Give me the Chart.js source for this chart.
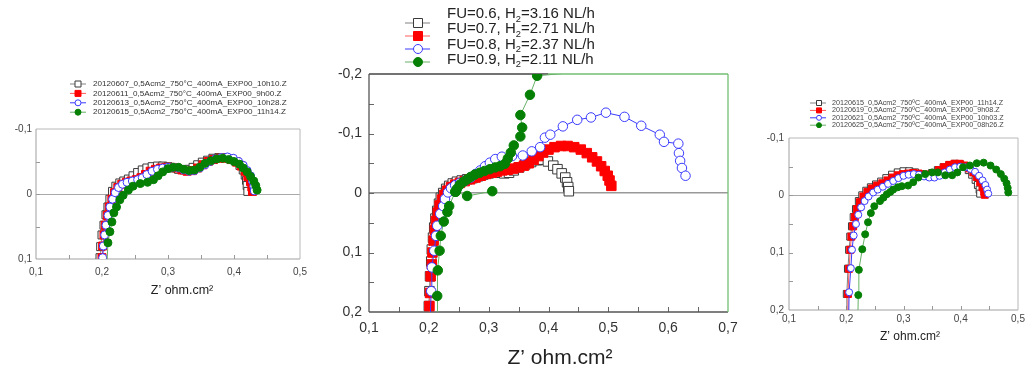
<!DOCTYPE html>
<html>
<head>
<meta charset="utf-8">
<script src="https://cdn.jsdelivr.net/npm/chart.js@4.4.1/dist/chart.umd.min.js"></script>
<style>
  html, body { margin: 0; padding: 0; background: #fff; }
  #wrap { position: relative; width: 1033px; height: 372px; overflow: hidden; }
  canvas { position: absolute; left: 0; top: 0; }
</style>
</head>
<body>
<div id="wrap">
  <canvas id="leftChart" width="1033" height="372"></canvas>
  <canvas id="midChart" width="1033" height="372"></canvas>
  <canvas id="rightChart" width="1033" height="372"></canvas>
</div>
<script>
// ---- data: [Z', -Z''] pairs in ohm.cm2 (y axis drawn inverted) ----

// left panel
const leftLabels = [
    '20120607_0,5Acm2_750°C_400mA_EXP00_10h10.Z',
    '20120611_0,5Acm2_750°C_400mA_EXP00_9h00.Z',
    '20120613_0,5Acm2_750°C_400mA_EXP00_10h28.Z',
    '20120615_0,5Acm2_750°C_400mA_EXP00_11h14.Z'
];
const left0607 = [[0.196,0.12],[0.197,0.098],[0.198,0.081],[0.200,0.063],[0.203,0.048],[0.206,0.032],[0.209,0.02],[0.212,0.008],[0.216,-0.004],[0.221,-0.012],[0.227,-0.017],[0.233,-0.02],[0.240,-0.023],[0.247,-0.028],[0.254,-0.033],[0.261,-0.037],[0.268,-0.040],[0.276,-0.042],[0.284,-0.043],[0.292,-0.043],[0.300,-0.042],[0.308,-0.040],[0.316,-0.038],[0.324,-0.037],[0.331,-0.038],[0.338,-0.041],[0.345,-0.045],[0.352,-0.049],[0.360,-0.052],[0.368,-0.055],[0.377,-0.056],[0.386,-0.056],[0.395,-0.054],[0.403,-0.05],[0.409,-0.044],[0.414,-0.037],[0.417,-0.029],[0.419,-0.021],[0.420,-0.013],[0.421,-0.004]];
const left0611 = [[0.199,0.12],[0.200,0.098],[0.201,0.08],[0.203,0.063],[0.205,0.048],[0.208,0.033],[0.211,0.02],[0.215,0.008],[0.219,-0.002],[0.224,-0.01],[0.230,-0.015],[0.237,-0.018],[0.244,-0.02],[0.252,-0.022],[0.259,-0.025],[0.266,-0.03],[0.273,-0.035],[0.281,-0.038],[0.289,-0.04],[0.297,-0.041],[0.305,-0.041],[0.313,-0.04],[0.321,-0.037],[0.329,-0.035],[0.337,-0.036],[0.345,-0.04],[0.353,-0.045],[0.361,-0.05],[0.369,-0.053],[0.378,-0.055],[0.387,-0.055],[0.396,-0.053],[0.404,-0.049],[0.411,-0.043],[0.417,-0.035],[0.421,-0.027],[0.425,-0.019],[0.427,-0.011],[0.428,-0.004]];
const left0613 = [[0.200,0.12],[0.201,0.098],[0.202,0.08],[0.204,0.063],[0.206,0.048],[0.209,0.033],[0.212,0.02],[0.216,0.008],[0.220,-0.002],[0.225,-0.01],[0.231,-0.015],[0.238,-0.018],[0.246,-0.02],[0.254,-0.022],[0.261,-0.025],[0.268,-0.03],[0.276,-0.035],[0.284,-0.038],[0.292,-0.04],[0.300,-0.041],[0.308,-0.041],[0.316,-0.04],[0.324,-0.037],[0.332,-0.035],[0.340,-0.036],[0.348,-0.04],[0.356,-0.045],[0.364,-0.05],[0.372,-0.054],[0.381,-0.056],[0.390,-0.057],[0.399,-0.055],[0.407,-0.05],[0.414,-0.044],[0.420,-0.036],[0.425,-0.028],[0.428,-0.02],[0.430,-0.012],[0.431,-0.005]];
const left0615 = [[0.207,0.12],[0.209,0.075],[0.212,0.058],[0.215,0.043],[0.218,0.029],[0.222,0.02],[0.227,0.009],[0.232,0.002],[0.240,-0.006],[0.247,-0.012],[0.258,-0.016],[0.269,-0.018],[0.278,-0.022],[0.285,-0.028],[0.292,-0.034],[0.300,-0.039],[0.308,-0.041],[0.316,-0.041],[0.324,-0.038],[0.332,-0.036],[0.340,-0.037],[0.348,-0.041],[0.356,-0.047],[0.365,-0.051],[0.374,-0.054],[0.383,-0.055],[0.392,-0.053],[0.400,-0.05],[0.408,-0.046],[0.414,-0.04],[0.420,-0.034],[0.425,-0.027],[0.430,-0.02],[0.433,-0.013],[0.435,-0.006]];

// middle panel
const midLabels = ['FU=0.6, H₂=3.16 NL/h', 'FU=0.7, H₂=2.71 NL/h', 'FU=0.8, H₂=2.37 NL/h', 'FU=0.9, H₂=2.11 NL/h'];
const midFU06 = [[0.199,0.23],[0.200,0.19],[0.201,0.165],[0.202,0.14],[0.204,0.115],[0.205,0.095],[0.207,0.075],[0.209,0.058],[0.211,0.043],[0.214,0.03],[0.217,0.018],[0.220,0.008],[0.224,0.0],[0.229,-0.007],[0.234,-0.012],[0.240,-0.016],[0.247,-0.019],[0.255,-0.021],[0.264,-0.023],[0.273,-0.025],[0.282,-0.028],[0.291,-0.031],[0.300,-0.033],[0.309,-0.034],[0.318,-0.034],[0.326,-0.033],[0.334,-0.034],[0.342,-0.038],[0.351,-0.043],[0.361,-0.048],[0.371,-0.052],[0.381,-0.055],[0.390,-0.056],[0.399,-0.053],[0.408,-0.046],[0.415,-0.040],[0.422,-0.033],[0.428,-0.026],[0.431,-0.018],[0.433,-0.010],[0.434,-0.003]];
const midFU07 = [[0.200,0.23],[0.201,0.19],[0.202,0.168],[0.203,0.14],[0.205,0.12],[0.206,0.10],[0.208,0.08],[0.210,0.062],[0.212,0.047],[0.215,0.033],[0.218,0.021],[0.222,0.011],[0.226,0.003],[0.231,-0.004],[0.237,-0.01],[0.244,-0.014],[0.252,-0.017],[0.260,-0.02],[0.269,-0.023],[0.278,-0.026],[0.287,-0.029],[0.296,-0.032],[0.305,-0.034],[0.314,-0.036],[0.323,-0.038],[0.332,-0.039],[0.341,-0.041],[0.350,-0.043],[0.359,-0.046],[0.367,-0.05],[0.375,-0.056],[0.383,-0.062],[0.391,-0.068],[0.400,-0.073],[0.410,-0.077],[0.421,-0.079],[0.432,-0.079],[0.443,-0.077],[0.454,-0.073],[0.464,-0.067],[0.473,-0.06],[0.481,-0.053],[0.488,-0.045],[0.494,-0.037],[0.499,-0.029],[0.502,-0.021],[0.505,-0.012]];
const midFU08 = [[0.201,0.24],[0.204,0.165],[0.205,0.125],[0.209,0.097],[0.212,0.072],[0.214,0.055],[0.219,0.035],[0.224,0.022],[0.227,0.01],[0.232,-0.001],[0.237,-0.008],[0.244,-0.013],[0.252,-0.017],[0.261,-0.021],[0.270,-0.026],[0.278,-0.032],[0.286,-0.038],[0.294,-0.045],[0.302,-0.051],[0.311,-0.057],[0.322,-0.061],[0.339,-0.062],[0.357,-0.063],[0.372,-0.07],[0.386,-0.077],[0.394,-0.093],[0.403,-0.098],[0.424,-0.112],[0.448,-0.123],[0.471,-0.127],[0.496,-0.135],[0.527,-0.128],[0.555,-0.113],[0.586,-0.098],[0.593,-0.086],[0.617,-0.083],[0.618,-0.067],[0.620,-0.054],[0.623,-0.042],[0.629,-0.029]];
const midFU09 = [[0.306,-0.003],[0.264,0.005],[0.245,-0.002],[null,null],
    [0.214,0.24],[0.214,0.173],[0.215,0.13],[0.218,0.097],[0.220,0.072],[0.225,0.048],[0.231,0.032],[0.234,0.022],[0.244,-0.002],[0.247,-0.007],[0.252,-0.014],[0.258,-0.019],[0.264,-0.023],[0.270,-0.027],[0.277,-0.031],[0.285,-0.034],[0.293,-0.037],[0.302,-0.040],[0.311,-0.043],[0.319,-0.045],[0.327,-0.049],[0.332,-0.058],[0.337,-0.068],[0.342,-0.08],[0.353,-0.095],[0.356,-0.11],[0.353,-0.131],[0.369,-0.165],[0.381,-0.197],[0.75,-0.23]];

// right panel
const rightLabels = [
    '20120615_0,5Acm2_750ºC_400mA_EXP00_11h14.Z',
    '20120619_0,5Acm2_750ºC_400mA_EXP00_9h08.Z',
    '20120621_0,5Acm2_750ºC_400mA_EXP00_10h03.Z',
    '20120625_0,5Acm2_750ºC_400mA_EXP00_08h26.Z'
];
const right0615 = [[0.200,0.23],[0.201,0.172],[0.203,0.128],[0.205,0.095],[0.207,0.072],[0.210,0.054],[0.213,0.038],[0.217,0.024],[0.222,0.01],[0.228,0.0],[0.235,-0.008],[0.243,-0.014],[0.252,-0.019],[0.261,-0.024],[0.270,-0.03],[0.280,-0.036],[0.290,-0.04],[0.300,-0.042],[0.310,-0.042],[0.320,-0.04],[0.330,-0.037],[0.340,-0.036],[0.350,-0.039],[0.360,-0.044],[0.370,-0.049],[0.380,-0.053],[0.390,-0.055],[0.399,-0.054],[0.407,-0.05],[0.414,-0.044],[0.420,-0.036],[0.426,-0.027],[0.430,-0.018],[0.433,-0.01],[0.434,-0.003]];
const right0619 = [[0.202,0.23],[0.203,0.172],[0.205,0.128],[0.207,0.095],[0.209,0.072],[0.212,0.054],[0.215,0.038],[0.219,0.024],[0.224,0.012],[0.230,0.002],[0.237,-0.006],[0.245,-0.012],[0.254,-0.017],[0.263,-0.021],[0.272,-0.026],[0.281,-0.031],[0.290,-0.035],[0.299,-0.037],[0.308,-0.038],[0.317,-0.039],[0.326,-0.038],[0.335,-0.036],[0.344,-0.036],[0.353,-0.039],[0.362,-0.044],[0.371,-0.049],[0.380,-0.053],[0.389,-0.055],[0.398,-0.055],[0.407,-0.052],[0.415,-0.047],[0.422,-0.04],[0.428,-0.032],[0.434,-0.023],[0.438,-0.014],[0.441,-0.006],[0.442,-0.001]];
const right0621 = [[0.204,0.23],[0.205,0.169],[0.208,0.127],[0.210,0.095],[0.213,0.07],[0.217,0.05],[0.221,0.034],[0.226,0.021],[0.232,0.01],[0.239,0.002],[0.247,-0.005],[0.255,-0.01],[0.264,-0.015],[0.273,-0.02],[0.282,-0.025],[0.291,-0.03],[0.300,-0.034],[0.309,-0.036],[0.318,-0.037],[0.327,-0.036],[0.336,-0.033],[0.345,-0.031],[0.354,-0.031],[0.363,-0.034],[0.372,-0.04],[0.381,-0.045],[0.390,-0.049],[0.399,-0.05],[0.408,-0.049],[0.417,-0.046],[0.425,-0.041],[0.432,-0.034],[0.438,-0.026],[0.443,-0.018],[0.446,-0.01],[0.448,-0.003]];
const right0625 = [[0.220,0.23],[0.221,0.174],[0.222,0.13],[0.228,0.094],[0.233,0.068],[0.238,0.047],[0.243,0.031],[0.249,0.019],[0.259,0.01],[0.265,0.004],[0.271,-0.002],[0.277,-0.006],[0.282,-0.01],[0.290,-0.014],[0.297,-0.016],[0.308,-0.017],[0.317,-0.023],[0.326,-0.031],[0.338,-0.037],[0.350,-0.04],[0.360,-0.04],[0.373,-0.035],[0.385,-0.035],[0.394,-0.04],[0.404,-0.049],[0.416,-0.052],[0.428,-0.056],[0.440,-0.057],[0.452,-0.052],[0.462,-0.045],[0.470,-0.037],[0.476,-0.029],[0.480,-0.021],[0.482,-0.013],[0.483,-0.005]];

// ---- look ----
const FONT = 'Liberation Sans, Arial, sans-serif';
const seriesLook = [
    { shape: 'rect',   fill: '#ffffff', stroke: '#3a3a3a', line: '#808080' },
    { shape: 'rect',   fill: '#ff0000', stroke: '#ff0000', line: '#ff5a5a' },
    { shape: 'circle', fill: '#ffffff', stroke: '#3a3aff', line: '#3a3aff' },
    { shape: 'circle', fill: '#058005', stroke: '#058005', line: '#66b066' }
];

function drawMarker(ctx, look, x, y, size) {
    ctx.save();
    ctx.lineWidth = 1;
    ctx.fillStyle = look.fill;
    ctx.strokeStyle = look.stroke;
    ctx.beginPath();
    if (look.shape === 'rect') ctx.rect(x - size / 2, y - size / 2, size, size);
    else ctx.arc(x, y, size / 2, 0, Math.PI * 2);
    ctx.fill();
    ctx.stroke();
    ctx.restore();
}

// text with an optional subscript 2
function drawLabel(ctx, text, x, y, size, color) {
    const parts = text.split('₂');
    ctx.fillStyle = color;
    ctx.textAlign = 'left';
    ctx.textBaseline = 'middle';
    ctx.font = size + 'px ' + FONT;
    ctx.fillText(parts[0], x, y);
    if (parts.length < 2) return;
    let cx = x + ctx.measureText(parts[0]).width;
    ctx.font = (size * 0.62) + 'px ' + FONT;
    ctx.fillText('2', cx, y + size * 0.33);
    cx += ctx.measureText('2').width;
    ctx.font = size + 'px ' + FONT;
    ctx.fillText(parts[1], cx, y);
}

function decor(cfg) {
    return {
        id: 'decor_' + cfg.name,
        beforeDatasetsDraw(chart) {
            const { ctx, chartArea: ca, scales: { x, y } } = chart;
            ctx.save();
            // inner tick marks
            ctx.strokeStyle = cfg.tickColor;
            ctx.lineWidth = 1;
            ctx.beginPath();
            x.ticks.forEach(t => {
                const px = Math.round(x.getPixelForValue(t.value)) + 0.5;
                if (px <= ca.left + 2 || px >= ca.right - 2) return;
                ctx.moveTo(px, ca.bottom);
                ctx.lineTo(px, ca.bottom - cfg.tickLen);
            });
            y.ticks.forEach(t => {
                const py = Math.round(y.getPixelForValue(t.value)) + 0.5;
                if (py <= ca.top + 2 || py >= ca.bottom - 2) return;
                ctx.moveTo(ca.left, py);
                ctx.lineTo(ca.left + cfg.tickLen, py);
            });
            ctx.stroke();
            // frame
            const f = cfg.frame;
            ctx.lineWidth = f.width;
            const seg = (c, x0, y0, x1, y1) => {
                ctx.strokeStyle = c;
                ctx.beginPath();
                ctx.moveTo(x0, y0);
                ctx.lineTo(x1, y1);
                ctx.stroke();
            };
            seg(f.left, ca.left, ca.top, ca.left, ca.bottom);
            seg(f.bottom, ca.left, ca.bottom, ca.right, ca.bottom);
            seg(f.right, ca.right, ca.top, ca.right, ca.bottom);
            if (f.split) {
                const sx = x.getPixelForValue(f.split.from);
                seg(f.top, ca.left, ca.top, sx, ca.top);
                seg(f.split.color, sx, ca.top, ca.right, ca.top);
            } else {
                seg(f.top, ca.left, ca.top, ca.right, ca.top);
            }
            ctx.restore();
        },
        afterDraw(chart) {
            const ctx = chart.ctx;
            const lg = cfg.legend;
            ctx.save();
            cfg.labels.forEach((label, i) => {
                const look = seriesLook[i];
                const my = lg.my0 + i * lg.mdy;
                ctx.strokeStyle = look.line;
                ctx.lineWidth = 1;
                ctx.beginPath();
                ctx.moveTo(lg.lx0, my);
                ctx.lineTo(lg.lx1, my);
                ctx.stroke();
                drawMarker(ctx, look, lg.mx, my, lg.size);
                drawLabel(ctx, label, lg.tx, lg.ty0 + i * lg.tdy, lg.font, lg.color);
            });
            const t = cfg.title;
            ctx.fillStyle = t.color;
            ctx.font = t.size + 'px ' + FONT;
            ctx.textAlign = 'center';
            ctx.textBaseline = 'middle';
            ctx.fillText('Z’ ohm.cm²', t.x, t.y);
            ctx.restore();
        }
    };
}

function fmtTick(v) {
    if (Math.abs(v * 10 - Math.round(v * 10)) > 1e-6) return '';
    if (Math.abs(v) < 1e-9) return '0';
    return v.toFixed(1).replace('.', ',');
}

function makeChart(id, sets, cfg) {
    const datasets = sets.map((pts, i) => {
        const look = seriesLook[i];
        return {
            label: cfg.labels[i],
            data: pts.map(p => ({ x: p[0], y: p[1] })),
            showLine: true,
            borderColor: look.line,
            borderWidth: 1,
            pointStyle: look.shape,
            pointRadius: look.shape === 'rect' ? cfg.marker / Math.SQRT2 : cfg.marker / 2,
            pointBackgroundColor: look.fill,
            pointBorderColor: look.stroke,
            pointBorderWidth: 1,
            order: 4 - i
        };
    });
    const a = cfg.area;
    const W = 1033, H = 372;
    new Chart(document.getElementById(id), {
        type: 'scatter',
        data: { datasets },
        options: {
            responsive: false,
            animation: false,
            events: [],
            layout: { padding: { left: a.left - cfg.yW, top: a.top, right: W - a.right, bottom: H - a.bottom - cfg.xH } },
            plugins: { legend: { display: false }, tooltip: { enabled: false } },
            scales: {
                x: {
                    type: 'linear', min: cfg.xRange[0], max: cfg.xRange[1],
                    border: { display: false },
                    grid: { display: false, drawTicks: false },
                    ticks: { stepSize: 0.05, autoSkip: false, maxRotation: 0, callback: fmtTick,
                             padding: cfg.xPad, color: cfg.tickText, font: { family: FONT, size: cfg.tickFont } },
                    afterFit: s => { s.height = cfg.xH; s.paddingLeft = 0; s.paddingRight = 0; }
                },
                y: {
                    type: 'linear', min: cfg.yRange[0], max: cfg.yRange[1], reverse: true,
                    border: { display: false },
                    grid: {
                        drawTicks: false,
                        color: c => (c.tick && Math.abs(c.tick.value) < 1e-9) ? cfg.zeroColor : 'rgba(0,0,0,0)',
                        lineWidth: cfg.zeroWidth
                    },
                    ticks: { stepSize: 0.05, autoSkip: false, callback: fmtTick,
                             padding: cfg.yPad, color: cfg.tickText, font: { family: FONT, size: cfg.tickFont } },
                    afterFit: s => { s.width = cfg.yW; s.paddingTop = 0; s.paddingBottom = 0; }
                }
            }
        },
        plugins: [decor(cfg)]
    });
}

makeChart('leftChart', [left0607, left0611, left0613, left0615], {
    name: 'left', labels: leftLabels,
    area: { left: 36, top: 129, right: 300, bottom: 259 }, yW: 30, xH: 25,
    xRange: [0.1, 0.5], yRange: [-0.1, 0.1],
    marker: 8, tickFont: 10, tickText: '#444', xPad: 7, yPad: 4,
    zeroColor: '#a8a8a8', zeroWidth: 1, tickLen: 4, tickColor: '#999',
    frame: { left: '#a0a0a0', bottom: '#a0a0a0', top: '#b8b8b8', right: '#b8b8b8', width: 1 },
    legend: { lx0: 70, lx1: 86, mx: 78, tx: 93, ty0: 84, tdy: 9.4, my0: 84, mdy: 9.4, size: 6, font: 8.1, color: '#333' },
    title: { x: 182, y: 291, size: 12.5, color: '#222' }
});

makeChart('midChart', [midFU06, midFU07, midFU08, midFU09], {
    name: 'mid', labels: midLabels,
    area: { left: 369, top: 74, right: 728, bottom: 312 }, yW: 40, xH: 30,
    xRange: [0.1, 0.7], yRange: [-0.2, 0.2],
    marker: 9.5, tickFont: 14, tickText: '#333', xPad: 8, yPad: 7,
    zeroColor: '#999999', zeroWidth: 1.5, tickLen: 5, tickColor: '#666',
    frame: { left: '#555', bottom: '#555', top: '#444', right: '#72bf72', width: 1.3,
             split: { from: 0.40, color: '#72bf72' } },
    legend: { lx0: 405, lx1: 430, mx: 418, tx: 447, ty0: 14, tdy: 15.3, my0: 23, mdy: 13, size: 9, font: 15, color: '#222' },
    title: { x: 560, y: 358, size: 21, color: '#222' }
});

makeChart('rightChart', [right0615, right0619, right0621, right0625], {
    name: 'right', labels: rightLabels,
    area: { left: 789, top: 138, right: 1018, bottom: 310 }, yW: 30, xH: 25,
    xRange: [0.1, 0.5], yRange: [-0.1, 0.2],
    marker: 7, tickFont: 10, tickText: '#444', xPad: 3, yPad: 5,
    zeroColor: '#a8a8a8', zeroWidth: 1, tickLen: 4, tickColor: '#999',
    frame: { left: '#a0a0a0', bottom: '#a0a0a0', top: '#b8b8b8', right: '#b8b8b8', width: 1 },
    legend: { lx0: 810, lx1: 826, mx: 819, tx: 832, ty0: 103, tdy: 7.4, my0: 103, mdy: 7.4, size: 5, font: 7.2, color: '#444' },
    title: { x: 910, y: 337, size: 12, color: '#222' }
});
</script>
</body>
</html>
